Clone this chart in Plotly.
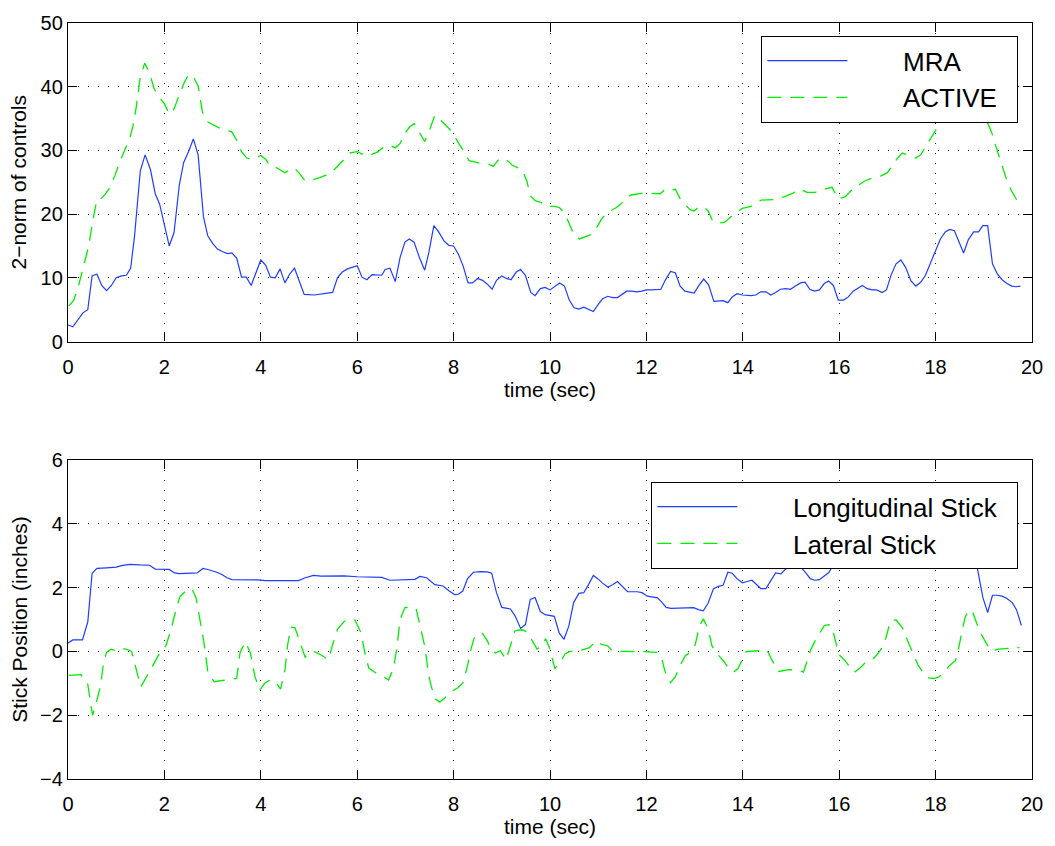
import plotly.graph_objects as go

# ---------------- data ----------------
mra_t = [0.0, 0.1, 0.31, 0.41, 0.5, 0.6, 0.7, 0.8, 0.9, 1.0, 1.11, 1.21, 1.3, 1.38, 1.5, 1.6, 1.71, 1.81, 1.9, 2.0,
         2.1, 2.2, 2.31, 2.4, 2.5, 2.6, 2.7, 2.81, 2.9, 3.0, 3.1, 3.21, 3.31, 3.4, 3.5, 3.6, 3.7, 3.8, 3.89, 4.0,
         4.1, 4.2, 4.3, 4.4, 4.5, 4.6, 4.7, 4.8, 4.9, 5.11, 5.32, 5.49, 5.59, 5.69, 5.8, 5.9, 6.0, 6.1, 6.2, 6.31,
         6.41, 6.51, 6.58, 6.68, 6.79, 6.89, 6.99, 7.08, 7.18, 7.29, 7.4, 7.49, 7.59, 7.69, 7.8, 7.9, 8.0, 8.1, 8.2, 8.3,
         8.39, 8.5, 8.6, 8.7, 8.8, 8.89, 9.0, 9.09, 9.19, 9.3, 9.39, 9.49, 9.6, 9.69, 9.8, 9.9, 10.0, 10.1, 10.2, 10.3,
         10.4, 10.5, 10.6, 10.7, 10.79, 10.9, 10.99, 11.09, 11.2, 11.3, 11.4, 11.5, 11.59, 11.7, 11.8, 11.9, 12.0, 12.1, 12.2, 12.3,
         12.39, 12.5, 12.6, 12.7, 12.8, 12.89, 12.99, 13.09, 13.19, 13.29, 13.4, 13.59, 13.69, 13.78, 13.88, 13.99, 14.17, 14.27, 14.37, 14.48,
         14.58, 14.68, 14.78, 14.89, 14.99, 15.09, 15.2, 15.29, 15.39, 15.49, 15.59, 15.69, 15.78, 15.88, 15.98, 16.09, 16.19, 16.29, 16.4, 16.48,
         16.58, 16.69, 16.78, 16.89, 16.98, 17.08, 17.18, 17.28, 17.38, 17.49, 17.59, 17.69, 17.79, 17.9, 18.0, 18.1, 18.2, 18.29, 18.39, 18.49,
         18.58, 18.68, 18.79, 18.89, 18.98, 19.08, 19.18, 19.28, 19.38, 19.48, 19.58, 19.67, 19.76]
mra_v = [2.6, 2.3, 4.5, 5.0, 10.3, 10.6, 8.8, 8.0, 8.8, 10.0, 10.3, 10.4, 11.5, 16.5, 26.8, 29.3, 27.0, 23.2, 21.6, 18.3,
         15.0, 17.1, 24.6, 28.1, 29.8, 31.8, 29.3, 19.6, 16.6, 15.4, 14.5, 14.1, 13.8, 13.9, 13.1, 10.1, 10.1, 8.8, 10.6, 12.8,
         12.0, 10.1, 10.0, 11.4, 9.2, 10.6, 11.5, 9.6, 7.4, 7.3, 7.5, 7.7, 10.0, 10.9, 11.4, 11.7, 11.9, 10.1, 9.7, 10.5,
         10.5, 10.4, 11.3, 11.5, 9.4, 13.2, 15.6, 16.1, 15.6, 13.2, 11.2, 14.1, 18.2, 17.2, 15.8, 15.1, 15.0, 13.7, 11.8, 9.2,
         9.2, 9.9, 9.6, 9.0, 8.2, 9.6, 10.3, 9.9, 9.7, 10.9, 11.3, 10.4, 7.7, 7.2, 8.3, 8.5, 8.1, 8.7, 9.2, 8.7,
         6.5, 5.3, 5.1, 5.4, 5.1, 4.7, 5.7, 6.7, 7.1, 6.9, 6.9, 7.4, 7.9, 7.9, 7.8, 7.9, 8.1, 8.1, 8.1, 8.2,
         9.6, 11.0, 10.8, 8.7, 7.9, 7.7, 7.6, 8.8, 9.8, 8.9, 6.3, 6.4, 6.1, 7.0, 7.5, 7.3, 7.2, 7.3, 7.8, 7.8,
         7.3, 7.7, 8.2, 8.3, 8.2, 8.7, 9.2, 9.3, 8.2, 7.9, 8.1, 9.1, 9.5, 8.8, 6.5, 6.5, 7.0, 7.9, 8.4, 8.8,
         8.3, 8.1, 8.1, 7.7, 8.1, 10.5, 12.2, 12.8, 11.6, 9.5, 8.7, 9.3, 10.4, 12.4, 14.5, 16.1, 17.2, 17.6, 17.4, 15.7,
         13.9, 16.0, 17.2, 17.2, 18.2, 18.2, 12.2, 10.6, 9.7, 9.1, 8.7, 8.6, 8.7]

active_t = [0.02, 0.12, 0.22, 0.32, 0.43, 0.51, 0.6, 0.67, 0.77, 0.87, 0.97, 1.08, 1.18, 1.28, 1.35, 1.42, 1.49, 1.59, 1.69, 1.79,
            1.9, 2.0, 2.1, 2.2, 2.31, 2.41, 2.5, 2.6, 2.7, 2.79, 2.89, 3.0, 3.2, 3.4, 3.5, 3.6, 3.71, 3.8, 3.9, 4.0,
            4.1, 4.2, 4.32, 4.39, 4.5, 4.6, 4.7, 4.8, 4.91, 5.04, 5.25, 5.45, 5.59, 5.73, 5.86, 6.0, 6.1, 6.2, 6.31, 6.41,
            6.55, 6.68, 6.79, 6.89, 6.99, 7.09, 7.18, 7.29, 7.4, 7.5, 7.61, 7.71, 7.81, 7.91, 8.01, 8.12, 8.22, 8.32, 8.43, 8.6,
            8.74, 8.82, 8.94, 9.04, 9.15, 9.21, 9.42, 9.52, 9.59, 9.69, 9.79, 9.9, 10.0, 10.1, 10.2, 10.31, 10.41, 10.51, 10.61, 10.73,
            10.85, 10.96, 11.06, 11.16, 11.26, 11.37, 11.47, 11.57, 11.68, 11.81, 11.92, 12.02, 12.16, 12.29, 12.39, 12.5, 12.6, 12.7, 12.81, 12.91,
            12.99, 13.08, 13.18, 13.28, 13.38, 13.49, 13.62, 13.79, 13.99, 14.17, 14.38, 14.55, 14.68, 14.85, 15.02, 15.2, 15.33, 15.5, 15.68, 15.85,
            15.93, 15.98, 16.12, 16.25, 16.39, 16.53, 16.7, 16.87, 17.0, 17.11, 17.21, 17.31, 17.45, 17.59, 17.69, 17.79, 17.9, 18.02, 18.2, 18.4,
            18.6, 18.8, 18.95, 19.06, 19.16, 19.26, 19.37, 19.47, 19.57, 19.71]
active_v = [5.6, 6.5, 8.8, 11.9, 15.0, 18.8, 22.3, 22.3, 23.1, 24.2, 26.0, 28.3, 30.1, 31.9, 33.9, 37.0, 41.1, 43.7, 42.2, 39.6,
            38.3, 37.3, 35.7, 36.5, 38.7, 40.6, 41.9, 41.6, 40.1, 36.0, 34.5, 34.1, 33.3, 32.9, 31.6, 29.8, 28.8, 28.6, 28.8, 29.2,
            28.6, 27.5, 27.3, 27.0, 26.5, 27.0, 27.2, 26.4, 25.3, 25.3, 25.8, 26.4, 27.5, 28.6, 29.6, 29.8, 29.4, 29.1, 29.4, 29.7,
            30.5, 30.8, 30.4, 31.1, 32.7, 33.7, 34.2, 32.7, 31.4, 33.2, 35.5, 34.9, 34.1, 33.4, 32.4, 30.9, 29.8, 28.4, 28.2, 27.9,
            27.8, 27.5, 28.6, 28.8, 28.2, 27.7, 27.0, 25.2, 22.9, 22.1, 21.9, 21.6, 21.2, 21.2, 21.0, 20.1, 18.3, 16.5, 16.1, 16.4,
            16.8, 17.8, 19.1, 20.1, 20.5, 21.0, 21.6, 22.4, 23.0, 23.2, 23.3, 23.3, 23.2, 23.2, 23.9, 23.7, 23.9, 22.4, 21.4, 20.7,
            20.5, 21.1, 21.2, 20.5, 18.8, 18.6, 18.7, 19.8, 20.9, 21.2, 22.2, 22.2, 22.3, 22.7, 23.2, 23.9, 23.4, 23.4, 23.9, 24.2,
            23.2, 22.4, 22.7, 23.7, 24.5, 25.2, 25.7, 26.0, 26.5, 27.8, 28.8, 29.6, 29.2, 28.8, 29.3, 30.6, 31.9, 33.4, 35.5, 37.0,
            38.0, 38.0, 36.5, 34.7, 32.9, 30.4, 27.8, 25.5, 23.7, 21.9]

long_t = [0.0, 0.1, 0.3, 0.41, 0.5, 0.6, 0.8, 1.0, 1.11, 1.28, 1.49, 1.69, 1.81, 2.1, 2.21, 2.31, 2.68, 2.8, 2.92, 3.09,
          3.2, 3.3, 3.4, 3.81, 3.95, 4.09, 4.5, 4.78, 4.91, 5.09, 5.25, 5.73, 6.0, 6.51, 6.68, 6.96, 7.2, 7.3, 7.44, 7.61,
          7.78, 7.91, 8.02, 8.1, 8.19, 8.29, 8.41, 8.56, 8.7, 8.79, 8.89, 9.0, 9.18, 9.28, 9.39, 9.49, 9.59, 9.69, 9.8, 9.9,
          10.09, 10.19, 10.29, 10.39, 10.49, 10.6, 10.7, 10.79, 10.9, 10.99, 11.09, 11.2, 11.3, 11.4, 11.5, 11.61, 11.81, 11.91, 12.02, 12.23,
          12.31, 12.41, 12.51, 12.98, 13.08, 13.18, 13.28, 13.39, 13.49, 13.59, 13.69, 13.78, 13.88, 13.99, 14.09, 14.19, 14.29, 14.37, 14.48, 14.58,
          14.68, 14.79, 14.89, 14.99, 15.09, 15.2, 15.3, 15.4, 15.49, 15.59, 15.69, 15.79, 15.88, 15.93, 16.2, 16.6, 17.0, 17.4, 17.8, 18.2,
          18.6, 18.82, 18.87, 18.98, 19.08, 19.18, 19.28, 19.38, 19.48, 19.59, 19.68, 19.78]
long_v = [0.26, 0.36, 0.36, 0.92, 2.45, 2.6, 2.62, 2.64, 2.69, 2.73, 2.71, 2.7, 2.58, 2.57, 2.46, 2.44, 2.46, 2.6, 2.56, 2.48,
          2.4, 2.31, 2.25, 2.26, 2.24, 2.22, 2.23, 2.22, 2.3, 2.38, 2.36, 2.37, 2.34, 2.32, 2.23, 2.25, 2.26, 2.35, 2.31, 2.09,
          2.05, 1.89, 1.78, 1.79, 1.89, 2.28, 2.48, 2.5, 2.49, 2.45, 1.84, 1.38, 1.33, 1.1, 0.72, 0.84, 1.63, 1.69, 1.25, 1.15,
          1.1, 0.58, 0.38, 0.79, 1.53, 1.82, 1.84, 2.07, 2.38, 2.28, 2.14, 2.02, 2.09, 2.19, 2.04, 1.87, 1.87, 1.84, 1.73, 1.68,
          1.56, 1.38, 1.35, 1.37, 1.31, 1.27, 1.51, 1.96, 2.04, 2.07, 2.48, 2.45, 2.28, 2.15, 2.19, 2.23, 2.09, 1.97, 1.97, 2.23,
          2.46, 2.43, 2.58, 2.66, 2.77, 2.64, 2.48, 2.28, 2.23, 2.25, 2.36, 2.48, 2.74, 2.94, 3.3, 3.5, 3.6, 3.5, 3.7, 3.8,
          3.5, 2.96, 2.58, 1.69, 1.22, 1.76, 1.76, 1.73, 1.66, 1.53, 1.3, 0.81]

lat_t = [0.02, 0.27, 0.41, 0.46, 0.51, 0.61, 0.67, 0.74, 0.8, 0.89, 1.0, 1.1, 1.21, 1.32, 1.41, 1.51, 1.59, 1.69, 1.79, 1.93,
         2.03, 2.12, 2.24, 2.32, 2.48, 2.58, 2.66, 2.75, 2.82, 2.9, 3.03, 3.16, 3.3, 3.5, 3.57, 3.68, 3.78, 3.88, 3.98, 4.08,
         4.19, 4.29, 4.41, 4.5, 4.56, 4.62, 4.71, 4.82, 4.92, 5.01, 5.11, 5.27, 5.4, 5.49, 5.59, 5.73, 5.95, 6.08, 6.17, 6.24,
         6.44, 6.55, 6.65, 6.75, 6.82, 6.89, 6.99, 7.22, 7.29, 7.4, 7.44, 7.47, 7.53, 7.61, 7.71, 7.81, 7.93, 8.09, 8.2, 8.29,
         8.36, 8.43, 8.5, 8.6, 8.7, 8.79, 8.87, 8.97, 9.09, 9.18, 9.27, 9.35, 9.45, 9.54, 9.64, 9.73, 9.83, 9.91, 10.0, 10.1,
         10.2, 10.31, 10.41, 10.51, 10.65, 10.82, 10.96, 11.06, 11.2, 11.3, 11.5, 11.71, 11.95, 12.22, 12.31, 12.39, 12.5, 12.6, 12.7, 12.81,
         12.91, 13.01, 13.1, 13.18, 13.28, 13.36, 13.49, 13.62, 13.73, 13.83, 13.9, 14.07, 14.21, 14.31, 14.41, 14.51, 14.61, 14.74, 14.96, 15.15,
         15.26, 15.33, 15.4, 15.5, 15.6, 15.69, 15.78, 15.85, 15.93, 15.98, 16.12, 16.22, 16.32, 16.43, 16.53, 16.67, 16.77, 16.87, 16.97, 17.06,
         17.18, 17.31, 17.42, 17.52, 17.64, 17.76, 17.84, 17.97, 18.07, 18.17, 18.29, 18.41, 18.48, 18.55, 18.61, 18.68, 18.77, 18.85, 18.95, 19.06,
         19.16, 19.3, 19.47, 19.61, 19.74]
lat_v = [-0.75, -0.73, -1.03, -1.47, -2.0, -1.47, -1.11, -0.34, -0.03, 0.07, 0.02, 0.09, 0.07, 0.0, -0.49, -1.11, -0.9, -0.63, -0.34, 0.02,
         0.17, 0.6, 1.3, 1.71, 1.95, 1.94, 1.66, 0.89, 0.28, -0.63, -0.95, -0.92, -0.9, -0.85, -0.03, 0.3, -0.03, -0.8, -1.21, -1.0,
         -0.9, -0.93, -1.18, -0.59, 0.23, 0.76, 0.74, 0.28, -0.18, -0.03, -0.01, -0.13, -0.26, 0.21, 0.69, 0.94, 0.99, 0.58, -0.13, -0.52,
         -0.73, -0.8, -0.9, -0.54, 0.07, 1.0, 1.38, 1.35, 0.89, 0.17, -0.24, -0.65, -1.06, -1.47, -1.59, -1.47, -1.28, -1.14, -0.97, -0.44,
         0.07, 0.43, 0.56, 0.56, 0.33, 0.02, -0.05, 0.02, -0.26, 0.17, 0.64, 0.67, 0.67, 0.58, 0.33, 0.07, 0.17, 0.4, 0.07, -0.54,
         -0.39, -0.08, 0.0, 0.0, 0.04, 0.12, 0.33, 0.23, 0.17, 0.0, 0.0, 0.0, -0.01, -0.03, -0.18, -0.65, -0.98, -0.8, -0.44, -0.13,
         -0.03, 0.19, 0.79, 1.02, 0.72, 0.17, -0.11, -0.34, -0.6, -0.63, -0.54, -0.01, 0.02, 0.02, -0.03, 0.02, -0.29, -0.63, -0.57, -0.59,
         -0.65, -0.34, 0.02, 0.33, 0.58, 0.81, 0.84, 0.77, 0.28, -0.08, -0.29, -0.49, -0.65, -0.52, -0.37, -0.29, -0.13, 0.07, 0.43, 0.94,
         0.99, 0.74, 0.33, -0.03, -0.44, -0.7, -0.83, -0.85, -0.8, -0.65, -0.44, -0.29, 0.12, 0.64, 1.05, 1.3, 1.22, 0.89, 0.53, 0.23,
         0.02, 0.07, 0.09, 0.1, 0.12]

x_ticks = [0, 2, 4, 6, 8, 10, 12, 14, 16, 18, 20]
series_names = ["MRA", "ACTIVE", "Longitudinal Stick", "Lateral Stick"]

# ---------------- styling ----------------
FONT = "Liberation Sans, Arial, Helvetica, sans-serif"
BLUE = "#1f3dff"
GREEN = "#00ee00"
DASH = "14px,9px"
PAD_L = "\u00a0" * 7   # gap between legend sample and label (as in the reference)
PAD_R = "\u00a0" * 2


def lbl(s):
    return PAD_L + s + PAD_R


fig = go.Figure()
fig.add_trace(go.Scatter(x=mra_t, y=mra_v, mode="lines", name=lbl(series_names[0]),
                         line=dict(color=BLUE, width=1.2), xaxis="x", yaxis="y", legend="legend"))
fig.add_trace(go.Scatter(x=active_t, y=active_v, mode="lines", name=lbl(series_names[1]),
                         line=dict(color=GREEN, width=1.3, dash=DASH), xaxis="x", yaxis="y", legend="legend"))
fig.add_trace(go.Scatter(x=long_t, y=long_v, mode="lines", name=lbl(series_names[2]),
                         line=dict(color=BLUE, width=1.2), xaxis="x2", yaxis="y2", legend="legend2"))
fig.add_trace(go.Scatter(x=lat_t, y=lat_v, mode="lines", name=lbl(series_names[3]),
                         line=dict(color=GREEN, width=1.3, dash=DASH), xaxis="x2", yaxis="y2", legend="legend2"))

axis_common = dict(
    showline=True, linecolor="black", linewidth=1.3, mirror="allticks",
    ticks="inside", ticklen=9, tickcolor="black", tickwidth=1,
    showgrid=True, gridcolor="#222222", gridwidth=1, griddash="1px,9px",
    zeroline=False, tickfont=dict(family=FONT, size=20, color="black"),
)
title_font = dict(family=FONT, size=21, color="black")
legend_common = dict(bgcolor="white", bordercolor="black", borderwidth=1.3,
                     font=dict(family=FONT, size=26, color="black"), itemwidth=80,
                     tracegroupgap=0, xanchor="right", yanchor="top", x=0.9856)

fig.update_layout(
    width=1055, height=846,
    margin=dict(l=68, r=13, t=20, b=57),
    paper_bgcolor="white", plot_bgcolor="white",
    font=dict(family=FONT, color="black"),
    xaxis=dict(axis_common, domain=[0, 1], anchor="y", range=[0, 20], tickvals=x_ticks,
               ticklabelstandoff=7,
               title=dict(text="time (sec)", font=title_font, standoff=4)),
    yaxis=dict(axis_common, domain=[0.5787, 1], anchor="x", range=[0, 50], dtick=10, tick0=0,
               title=dict(text="2−norm of controls", font=title_font, standoff=8)),
    xaxis2=dict(axis_common, domain=[0, 1], anchor="y2", range=[0, 20], tickvals=x_ticks,
                ticklabelstandoff=7,
                title=dict(text="time (sec)", font=title_font, standoff=4)),
    yaxis2=dict(axis_common, domain=[0, 0.422], anchor="x2", range=[-4, 6], dtick=2, tick0=0,
                title=dict(text="Stick Position (inches)", font=title_font, standoff=6)),
    legend=dict(legend_common, y=0.983),
    legend2=dict(legend_common, y=0.393),
    showlegend=True,
)

fig.write_html("out.html", config={"displayModeBar": False},
               post_script="document.body.style.margin='0';")
